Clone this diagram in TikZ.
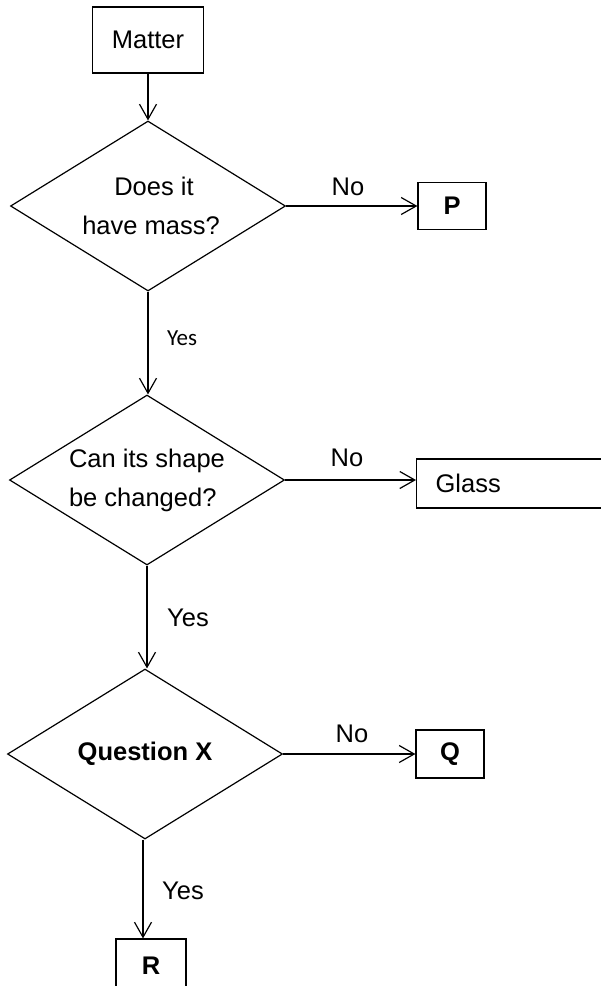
\documentclass[tikz,border=0pt]{standalone}
\usepackage{fontspec}
\setmainfont{Liberation Sans}
\newfontfamily\calib{Carlito}
\usetikzlibrary{shapes.geometric,arrows.meta}
\tikzset{
  boxnode/.style={draw, line width=1.2pt, inner sep=0pt, font=\fontsize{25.5}{39}\selectfont},
  decision/.style={diamond, shape aspect=1.6, draw, line width=1.2pt, inner sep=0pt, minimum width=275pt, minimum height=170pt, align=center, font=\fontsize{25.5}{39}\selectfont},
  conn/.style={line width=1.2pt, -{Straight Barb[length=15pt,width=17pt,line width=1.2pt]}},
  lbl/.style={font=\fontsize{25.5}{30}\selectfont, inner sep=0pt}
}
\begin{document}
\begin{tikzpicture}[x=1pt,y=-1pt]
\useasboundingbox (0,0) rectangle (601,986);
\fill[white] (0,0) rectangle (601,986);
\clip (0,0) rectangle (601,986);

\node[boxnode, minimum width=111pt, minimum height=66pt] (matter) at (148,40) {Matter};
\node[decision] (d1) at (148,206) {\hspace*{12pt}Does it\\\hspace*{6pt}have mass?};
\node[boxnode, minimum width=68pt, minimum height=47pt, font=\fontsize{25.5}{30}\selectfont\bfseries] (p) at (452,206) {P};
\node[decision, align=left] (d2) at (147,480) {Can its shape\\be changed?};
\node[boxnode, anchor=west, minimum width=230pt, minimum height=49pt, text width=200pt, inner xsep=19pt, align=left] (glass) at (416,483.5) {Glass};
\node[decision, font=\fontsize{25.5}{39}\selectfont\bfseries] (d3) at (145,754) {Question X};
\node[boxnode, minimum width=68pt, minimum height=48pt, font=\fontsize{25.5}{30}\selectfont\bfseries] (q) at (450,754) {Q};
\node[boxnode, minimum width=70pt, minimum height=54pt, font=\fontsize{25.5}{30}\selectfont\bfseries] (r) at (151,966) {R};

\draw[conn] (matter.south) -- (matter.south |- d1.north);
\draw[conn] (d1.east) -- (p.west);
\draw[conn] (d1.south) -- (d1.south |- d2.north);
\draw[conn] (d2.east) -- (d2.east -| glass.west);
\draw[conn] (d2.south) -- (d2.south |- d3.north);
\draw[conn] (d3.east) -- (q.west);
\draw[conn] ([xshift=-2pt]d3.south) -- ([xshift=-2pt]d3.south |- r.north);

\node[lbl] (no1) at (348,187) {No};
\node[lbl] (no2) at (347,458) {No};
\node[lbl] (no3) at (352,734) {No};
\node[lbl, font=\calib\fontsize{23}{28}\selectfont] (yes1) at (182,338) {Yes};
\node[lbl] (yes2) at (188,618) {Yes};
\node[lbl] (yes3) at (183,891) {Yes};
\end{tikzpicture}
\end{document}
